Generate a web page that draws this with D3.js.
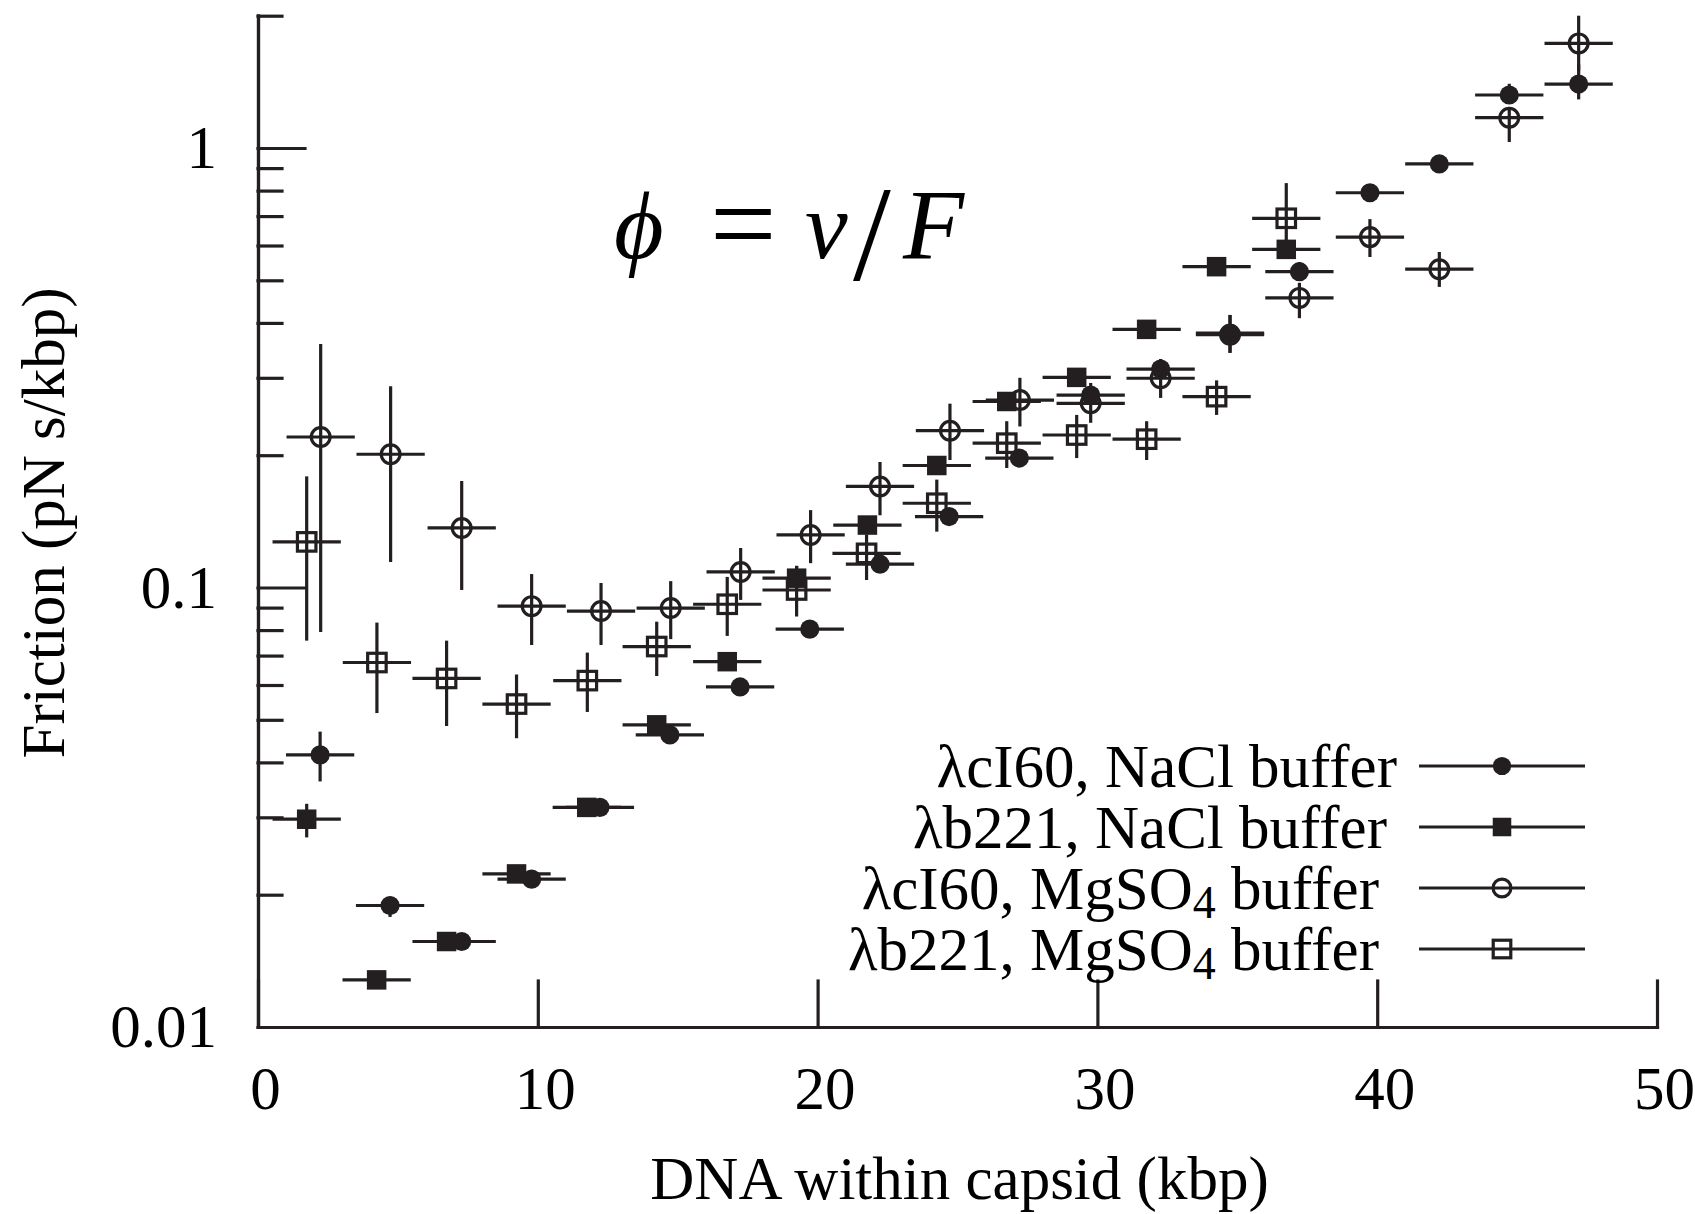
<!DOCTYPE html>
<html>
<head>
<meta charset="utf-8">
<script src="https://cdn.jsdelivr.net/npm/d3@7"></script>
<style>
  html, body { margin: 0; padding: 0; background: #fff; }
  svg { display: block; }
</style>
</head>
<body>
<svg id="chart" width="1695" height="1214"></svg>
<script>
// ---- axis ticks ----
const xTicks = [0, 10, 20, 30, 40, 50];
const yMajorTicks = [0.01, 0.1, 1];
const yMajorLabels = ["0.01", "0.1", "1"];
const yMinorTicks = [0.02, 0.03, 0.04, 0.05, 0.06, 0.07, 0.08, 0.09,
                     0.2, 0.3, 0.4, 0.5, 0.6, 0.7, 0.8, 0.9, 2];

// half width of every DNA bin (kbp), drawn as the horizontal error bar
const binHalfWidth = 1.22;

// ---- λcI60, NaCl buffer ----
const kbpCI60Na   = [2.22, 4.72, 7.28, 9.78, 12.22, 14.72, 17.23, 19.72, 22.23, 24.70, 27.21, 29.76, 32.26, 34.74, 37.22, 39.74, 42.22, 44.72, 47.20];
const fricCI60Na  = [0.0416, 0.0189, 0.01565, 0.0217, 0.0316, 0.0462, 0.0594, 0.0804, 0.113, 0.145, 0.197, 0.274, 0.314, 0.379, 0.523, 0.791, 0.920, 1.32, 1.398];
const lowCI60Na   = [0.0362, 0.0178, 0.01565, 0.0217, 0.0316, 0.0462, 0.0594, 0.0804, 0.113, 0.145, 0.197, 0.274, 0.300, 0.342, 0.500, 0.791, 0.910, 1.26, 1.29];
const highCI60Na  = [0.0470, 0.0198, 0.01565, 0.0217, 0.0316, 0.0462, 0.0594, 0.0804, 0.113, 0.145, 0.197, 0.274, 0.331, 0.417, 0.550, 0.791, 0.935, 1.40, 1.55];

// ---- λb221, NaCl buffer ----
const kbpB221Na   = [1.74, 4.24, 6.74, 9.24, 11.75, 14.25, 16.77, 19.25, 21.78, 24.26, 26.76, 29.26, 31.76, 34.26, 36.75];
const fricB221Na  = [0.0297, 0.0128, 0.01565, 0.0223, 0.0316, 0.0487, 0.0678, 0.105, 0.1387, 0.1895, 0.265, 0.3007, 0.3867, 0.537, 0.588];
const lowB221Na   = [0.0270, 0.0128, 0.01565, 0.0223, 0.0316, 0.0487, 0.0678, 0.099, 0.1387, 0.1895, 0.265, 0.3007, 0.3867, 0.530, 0.588];
const highB221Na  = [0.0322, 0.0128, 0.01565, 0.0223, 0.0316, 0.0487, 0.0678, 0.112, 0.1387, 0.1895, 0.265, 0.3007, 0.3867, 0.545, 0.588];

// ---- λcI60, MgSO4 buffer ----
const kbpCI60Mg   = [2.24, 4.74, 7.28, 9.78, 12.26, 14.75, 17.25, 19.75, 22.23, 24.73, 27.23, 29.76, 32.26, 34.74, 37.22, 39.74, 42.22, 44.72, 47.20];
const fricCI60Mg  = [0.220, 0.201, 0.1366, 0.0907, 0.0884, 0.0898, 0.1085, 0.1317, 0.1698, 0.2274, 0.267, 0.2625, 0.2993, 0.376, 0.456, 0.627, 0.530, 1.172, 1.73];
const lowCI60Mg   = [0.0792, 0.1143, 0.0987, 0.074, 0.074, 0.0763, 0.0937, 0.1136, 0.146, 0.195, 0.2325, 0.237, 0.270, 0.342, 0.410, 0.565, 0.483, 1.032, 1.50];
const highCI60Mg  = [0.358, 0.287, 0.1747, 0.1073, 0.1024, 0.1034, 0.123, 0.150, 0.193, 0.262, 0.300, 0.292, 0.331, 0.417, 0.4935, 0.689, 0.580, 1.24, 2.0];

// ---- λb221, MgSO4 buffer ----
const kbpB221Mg   = [1.74, 4.25, 6.74, 9.24, 11.77, 14.25, 16.77, 19.25, 21.75, 24.26, 26.76, 29.26, 31.76, 34.26, 36.75];
const fricB221Mg  = [0.127, 0.0675, 0.0621, 0.0543, 0.0614, 0.0734, 0.0916, 0.0987, 0.1196, 0.1555, 0.213, 0.2223, 0.2175, 0.2718, 0.692];
const lowB221Mg   = [0.0757, 0.0518, 0.0484, 0.0454, 0.0521, 0.0629, 0.0776, 0.0859, 0.104, 0.134, 0.187, 0.197, 0.195, 0.247, 0.58];
const highB221Mg  = [0.179, 0.0832, 0.0757, 0.0634, 0.0711, 0.0836, 0.1057, 0.112, 0.132, 0.176, 0.239, 0.247, 0.239, 0.296, 0.832];

// legend labels; "_4" marks a subscript
const seriesLabels = ["λcI60, NaCl buffer", "λb221, NaCl buffer", "λcI60, MgSO_4 buffer", "λb221, MgSO_4 buffer"];
const seriesMarkers = ["filledCircle", "filledSquare", "openCircle", "openSquare"];

const xTitle = "DNA within capsid (kbp)";
const yTitle = "Friction (pN s/kbp)";

// ---- assemble series ----
function zipSeries(xs, ys, lo, hi) {
  return xs.map((v, i) => ({ x: v, y: ys[i], lo: lo[i], hi: hi[i] }));
}
const series = [
  zipSeries(kbpCI60Na, fricCI60Na, lowCI60Na, highCI60Na),
  zipSeries(kbpB221Na, fricB221Na, lowB221Na, highB221Na),
  zipSeries(kbpCI60Mg, fricCI60Mg, lowCI60Mg, highCI60Mg),
  zipSeries(kbpB221Mg, fricB221Mg, lowB221Mg, highB221Mg)
];

// ---- drawing ----
const INK = "#231f20";
const SERIF = "'Liberation Serif','Times New Roman',Times,serif";
const LW = 3.2;

const svg = d3.select("#chart");
const W = +svg.attr("width"), H = +svg.attr("height");
svg.append("rect").attr("width", W).attr("height", H).attr("fill", "#fff");

const x = d3.scaleLinear().domain([0, 50]).range([258, 1657]);
const y = d3.scaleLog().domain([0.01, 2]).range([1027, 15.7]);

function styleAxis(g) {
  g.attr("font-family", null).attr("font-size", null);
  g.selectAll("line, path").attr("stroke", INK).attr("stroke-width", LW).attr("stroke-linecap", "square");
  g.selectAll("text").attr("font-family", SERIF).attr("font-size", 61).attr("fill", "#000");
}

// bottom axis, ticks pointing into the plot
const gx = svg.append("g")
  .attr("transform", `translate(0,${y(0.01)})`)
  .call(d3.axisBottom(x).tickValues(xTicks).tickSizeInner(-46).tickSizeOuter(0)
        .tickPadding(39).tickFormat(d3.format("d")));
styleAxis(gx);
gx.selectAll("text").attr("dx", 7);

// left axis: minor ticks then major ticks with labels
const gyMinor = svg.append("g")
  .attr("transform", `translate(${x(0)},0)`)
  .call(d3.axisLeft(y).tickValues(yMinorTicks).tickSizeInner(-24).tickSizeOuter(0).tickFormat(""));
styleAxis(gyMinor);

const gy = svg.append("g")
  .attr("transform", `translate(${x(0)},0)`)
  .call(d3.axisLeft(y).tickValues(yMajorTicks).tickSizeInner(-47).tickSizeOuter(0)
        .tickPadding(41).tickFormat(d => yMajorLabels[yMajorTicks.indexOf(d)]));
styleAxis(gy);

// ---- markers ----
function drawMarker(g, kind, cx, cy, scale) {
  const s = scale || 1;
  if (kind === "filledCircle") {
    g.append("circle").attr("cx", cx).attr("cy", cy).attr("r", 9.6 * s).attr("fill", INK);
  } else if (kind === "filledSquare") {
    const a = 19.5 * s;
    g.append("rect").attr("x", cx - a / 2).attr("y", cy - a / 2).attr("width", a).attr("height", a).attr("fill", INK);
  } else if (kind === "openCircle") {
    g.append("circle").attr("cx", cx).attr("cy", cy).attr("r", 9.4 * s)
      .attr("fill", "none").attr("stroke", INK).attr("stroke-width", LW);
  } else {
    const a = 18.5 * s;
    g.append("rect").attr("x", cx - a / 2).attr("y", cy - a / 2).attr("width", a).attr("height", a)
      .attr("fill", "none").attr("stroke", INK).attr("stroke-width", LW);
  }
}

// ---- error bars and points, one group per series ----
series.forEach((pts, si) => {
  const g = svg.append("g").attr("class", "series");
  pts.forEach(p => {
    g.append("line")
      .attr("x1", x(p.x - binHalfWidth)).attr("x2", x(p.x + binHalfWidth))
      .attr("y1", y(p.y)).attr("y2", y(p.y))
      .attr("stroke", INK).attr("stroke-width", LW);
    if (p.hi > p.lo) {
      g.append("line")
        .attr("x1", x(p.x)).attr("x2", x(p.x))
        .attr("y1", y(p.lo)).attr("y2", y(p.hi))
        .attr("stroke", INK).attr("stroke-width", LW);
    }
    drawMarker(g, seriesMarkers[si], x(p.x), y(p.y));
  });
});

// ---- legend ----
const legend = svg.append("g").attr("class", "legend");
const legTop = 766, legStep = 61, legLineX1 = 1419, legLineX2 = 1585;
const legTextRight = [1397, 1387, 1379, 1379];
seriesLabels.forEach((label, i) => {
  const ry = legTop + i * legStep;
  const t = legend.append("text")
    .attr("x", legTextRight[i]).attr("y", ry + 21)
    .attr("text-anchor", "end")
    .attr("font-family", SERIF).attr("font-size", 61).attr("fill", "#000");
  const parts = label.split("_");
  if (parts.length === 1) {
    t.text(label);
  } else {
    const sub = parts[1].charAt(0);
    const rest = parts[1].slice(1);
    t.append("tspan").text(parts[0]);
    t.append("tspan").attr("font-size", 46).attr("dy", 9).text(sub);
    t.append("tspan").attr("dy", -9).text(rest);
  }
  legend.append("line")
    .attr("x1", legLineX1).attr("x2", legLineX2).attr("y1", ry).attr("y2", ry)
    .attr("stroke", INK).attr("stroke-width", LW);
  drawMarker(legend, seriesMarkers[i], (legLineX1 + legLineX2) / 2, ry, 0.95);
});

// ---- axis titles ----
svg.append("text")
  .attr("x", (x(0) + x(50)) / 2 + 2).attr("y", 1199)
  .attr("text-anchor", "middle")
  .attr("font-family", SERIF).attr("font-size", 61).attr("fill", "#000")
  .text(xTitle);

svg.append("text")
  .attr("transform", "translate(64,523) rotate(-90)")
  .attr("text-anchor", "middle")
  .attr("font-family", SERIF).attr("font-size", 61).attr("fill", "#000")
  .text(yTitle);

// ---- definition of the friction coefficient ----
const eq = svg.append("text")
  .attr("y", 258)
  .attr("font-family", "'Liberation Serif','DejaVu Serif',serif")
  .attr("font-size", 96).attr("fill", "#000");
eq.append("tspan").attr("x", 614).attr("font-style", "italic").text("ϕ");
eq.append("tspan").attr("x", 710).attr("y", 264).attr("font-size", 118).text("=");
eq.append("tspan").attr("x", 805).attr("y", 258).attr("font-style", "italic").text("v");
eq.append("tspan").attr("x", 853).attr("y", 280).attr("font-size", 136).text("/");
eq.append("tspan").attr("x", 903).attr("y", 258).attr("font-size", 100).attr("font-style", "italic").text("F");
</script>
</body>
</html>
